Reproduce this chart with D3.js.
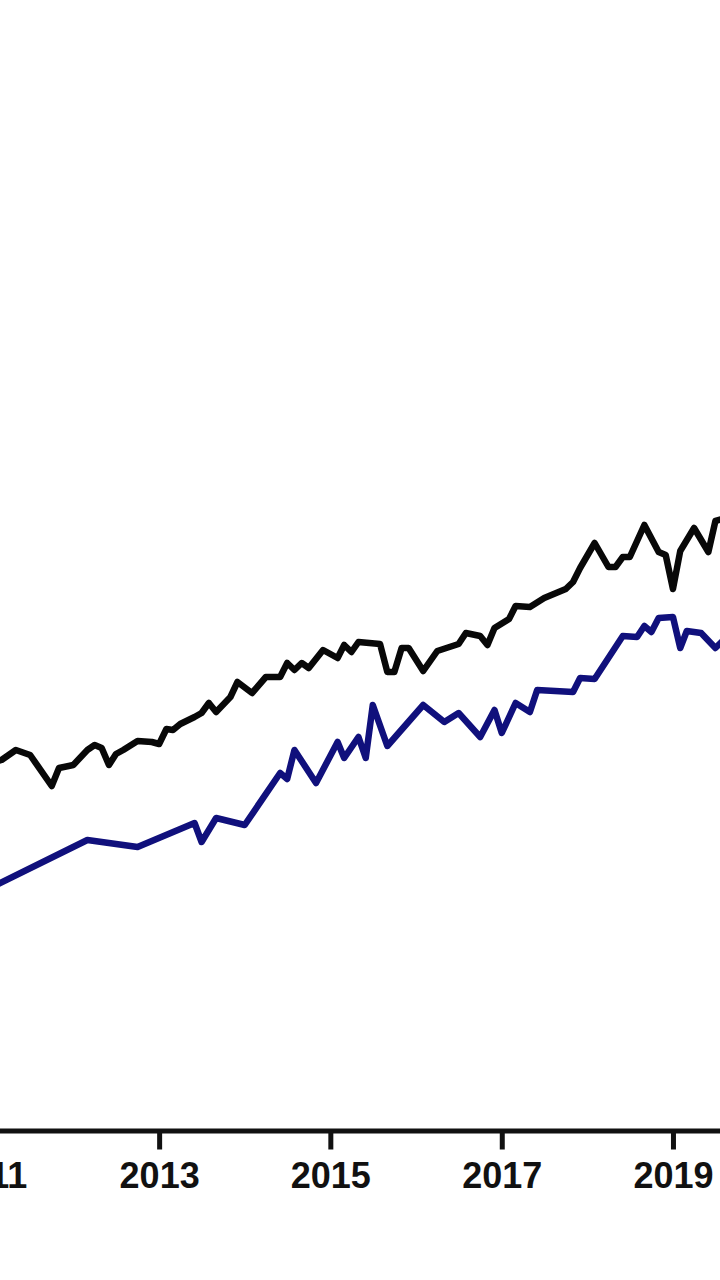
<!DOCTYPE html>
<html>
<head>
<meta charset="utf-8">
<script src="https://cdn.jsdelivr.net/npm/d3@7"></script>
<style>
  html, body { margin: 0; padding: 0; background: #fff; }
  svg { display: block; }
  .axis text { font-family: "Liberation Sans", Arial, sans-serif; font-weight: bold; }
</style>
</head>
<body>
<div id="chart"></div>
<script>
// upper series (black), month -> index value
var blackMonths = ['2011-02','2011-03','2011-05','2011-07','2011-10','2011-11','2012-01','2012-03','2012-04','2012-05',
  '2012-06','2012-07','2012-08','2012-10','2012-12','2013-01','2013-02','2013-03','2013-04','2013-06',
  '2013-07','2013-08','2013-09','2013-11','2013-12','2014-02','2014-04','2014-06','2014-07','2014-08',
  '2014-09','2014-10','2014-12','2015-02','2015-03','2015-04','2015-05','2015-08','2015-09','2015-10',
  '2015-11','2015-12','2016-02','2016-04','2016-07','2016-08','2016-10','2016-11','2016-12','2017-02',
  '2017-03','2017-05','2017-07','2017-10','2017-11','2017-12','2018-02','2018-04','2018-05','2018-06',
  '2018-07','2018-09','2018-11','2018-12','2019-01','2019-02','2019-04','2019-06','2019-07','2019-08','2019-09'];
var blackValues = [37.0,37.2,38.2,37.7,34.6,36.4,36.7,38.2,38.7,38.4,
  36.7,37.8,38.2,39.1,39.0,38.8,40.3,40.2,40.8,41.5,
  41.9,42.9,42.0,43.5,45.0,43.9,45.5,45.5,46.9,46.2,
  46.9,46.4,48.2,47.4,48.7,48.0,49.0,48.8,46.0,46.0,
  48.4,48.4,46.1,48.1,48.8,49.9,49.6,48.7,50.4,51.3,
  52.6,52.5,53.4,54.3,55.0,56.4,58.9,56.5,56.5,57.5,
  57.5,60.7,58.0,57.7,54.3,58.1,60.4,58.0,61.1,61.3,61.0];

// lower series (navy)
var blueMonths = ['2011-02','2012-03','2012-10','2013-06','2013-07','2013-09','2014-01','2014-06','2014-07','2014-08',
  '2014-11','2015-02','2015-03','2015-05','2015-06','2015-07','2015-09','2016-02','2016-05','2016-07',
  '2016-10','2016-12','2017-01','2017-03','2017-05','2017-06','2017-11','2017-12','2018-02','2018-06',
  '2018-08','2018-09','2018-10','2018-11','2019-01','2019-02','2019-03','2019-05','2019-07','2019-08','2019-09'];
var blueValues = [24.65,29.2,28.5,30.9,29.0,31.4,30.7,35.9,35.3,38.2,
  34.9,39.0,37.4,39.5,37.4,42.7,38.6,42.7,41.0,41.9,
  39.5,42.2,39.9,42.9,42.0,44.2,44.0,45.4,45.3,49.6,
  49.5,50.6,50.0,51.4,51.5,48.4,50.1,49.9,48.4,49.1,49.2];

var tickYears = [2011, 2013, 2015, 2017, 2019, 2021];

var W = 720, H = 1280;
var axisY = 1130.5;
var parseM = d3.timeParse('%Y-%m');

var x = d3.scaleTime()
    .domain([new Date(2011, 0, 1), new Date(2021, 0, 1)])
    .range([-12.3, 844.4]);
var y = d3.scaleLinear().domain([0, 100]).range([1132, 132]);

var svg = d3.select('#chart').append('svg')
    .attr('width', W).attr('height', H);

function series(months, values){
    return months.map(function(m, i){ return { date: parseM(m), value: values[i] }; });
}

var line = d3.line()
    .x(function(d){ return x(d.date); })
    .y(function(d){ return y(d.value); });

svg.append('path')
    .datum(series(blueMonths, blueValues))
    .attr('d', line)
    .attr('fill', 'none')
    .attr('stroke', '#10107c')
    .attr('stroke-width', 6.5)
    .attr('stroke-linejoin', 'round');

svg.append('path')
    .datum(series(blackMonths, blackValues))
    .attr('d', line)
    .attr('fill', 'none')
    .attr('stroke', '#080808')
    .attr('stroke-width', 6.5)
    .attr('stroke-linejoin', 'round');

var ax = d3.axisBottom(x)
    .tickValues(tickYears.map(function(yr){ return new Date(yr, 0, 1); }))
    .tickFormat(d3.timeFormat('%Y'))
    .tickSize(19)
    .tickPadding(13)
    .tickSizeOuter(0);

var g = svg.append('g')
    .attr('class', 'axis')
    .attr('transform', 'translate(0,' + axisY + ')')
    .call(ax);

g.select('.domain').attr('stroke', '#111').attr('stroke-width', 5);
g.selectAll('.tick line').attr('stroke', '#111').attr('stroke-width', 5);
g.selectAll('.tick text')
    .attr('fill', '#111')
    .style('font-size', '36px');
</script>
</body>
</html>
